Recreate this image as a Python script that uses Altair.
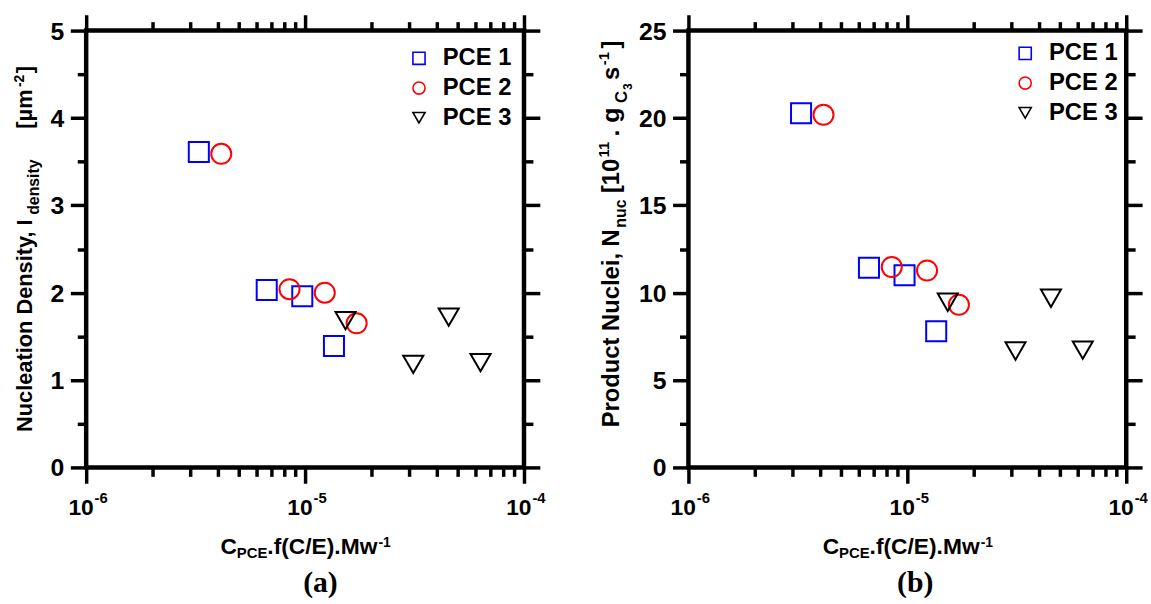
import altair as alt
import pandas as pd

FONT = "Arial"
SERIF = "Times New Roman, Liberation Serif"

# ---------------- data ----------------
series_names = ["PCE 1", "PCE 2", "PCE 3"]
series_colors = ["#0000ff", "#ff0000", "#000000"]
series_shapes = ["square", "circle", "triangle-down"]

# x: C_PCE.f(C/E).Mw^-1
pce1_x = [3.27e-6, 6.68e-6, 9.71e-6, 1.355e-5]
pce2_x = [4.14e-6, 8.49e-6, 1.23e-5, 1.72e-5]
pce3_x = [1.53e-5, 3.12e-5, 4.53e-5, 6.33e-5]

# panel (a): nucleation density
pce1_a = [3.61, 2.03, 1.96, 1.39]
pce2_a = [3.59, 2.04, 2.00, 1.65]
pce3_a = [1.68, 1.18, 1.72, 1.20]

# panel (b): product nuclei
pce1_b = [20.27, 11.43, 11.00, 7.79]
pce2_b = [20.18, 11.47, 11.27, 9.31]
pce3_b = [9.45, 6.66, 9.68, 6.71]

# axis ticks / labels
x_major = [1e-6, 1e-5, 1e-4]
x_exponents = ["-6", "-5", "-4"]
x_minor_mult = [2, 3, 4, 5, 6, 7, 8, 9]
y_ticks_a = [0, 0.5, 1, 1.5, 2, 2.5, 3, 3.5, 4, 4.5, 5]
y_ticks_b = [0, 2.5, 5, 7.5, 10, 12.5, 15, 17.5, 20, 22.5, 25]
y_major_a = [0, 1, 2, 3, 4, 5]
y_labels_a = ["0", "1", "2", "3", "4", "5"]
y_major_b = [0, 5, 10, 15, 20, 25]
y_labels_b = ["0", "5", "10", "15", "20", "25"]

x_ticks = sorted(x_major + [m * d for d in x_major[:-1] for m in x_minor_mult])

W, H = 442, 441
MAJOR_X = "abs(log(datum.value)/LN10 - round(log(datum.value)/LN10)) < 0.001"


def make_df(ys):
    rows = []
    for name, xs, yv in zip(series_names, [pce1_x, pce2_x, pce3_x], ys):
        for xv, yy in zip(xs, yv):
            rows.append({"series": name, "x": xv, "y": yy})
    return pd.DataFrame(rows)


def x_axis(orient):
    return alt.Axis(orient=orient, values=x_ticks, labels=False, title=None,
                    grid=False, domain=False, ticks=True, tickColor="black",
                    tickWidth=3.5,
                    tickSize={"condition": {"test": MAJOR_X, "value": 16}, "value": 9})


def y_axis(orient, ticks, step):
    test = f"abs(datum.value/{step} - round(datum.value/{step})) < 0.001"
    return alt.Axis(orient=orient, values=ticks, title=None, grid=False, domain=False,
                    ticks=True, tickColor="black", tickWidth=3.5, labels=False,
                    tickSize={"condition": {"test": test, "value": 16}, "value": 9})


def piece(text, x, y, size, angle=0, align="left", font=FONT):
    return alt.Chart(pd.DataFrame({"t": [text]})).mark_text(
        align=align, baseline="alphabetic", angle=angle, font=font,
        fontSize=size, fontWeight="bold", color="black"
    ).encode(text="t:N", x=alt.value(x), y=alt.value(y))


def panel(df, y_ticks, step, y_max, y_major, y_labels, lx, ly, ytitle, letter, letter_x):
    xscale = alt.Scale(type="log", domain=[1e-6, 1e-4], nice=False)
    yscale = alt.Scale(domain=[0, y_max], nice=False)
    legend = alt.Legend(orient="none", legendX=lx, legendY=ly, title=None,
                        labelFont=FONT, labelFontSize=24, labelFontWeight="bold",
                        labelColor="black", symbolSize=150, symbolStrokeWidth=1.6,
                        labelOffset=12, rowPadding=6, padding=0, labelLimit=300)
    color = alt.Color("series:N", scale=alt.Scale(domain=series_names, range=series_colors),
                      legend=legend)
    shape = alt.Shape("series:N", scale=alt.Scale(domain=series_names, range=series_shapes),
                      legend=legend)
    points = alt.Chart(df).mark_point(filled=False, size=410, strokeWidth=2, opacity=1).encode(
        x=alt.X("x:Q", scale=xscale, axis=x_axis("bottom")),
        y=alt.Y("y:Q", scale=yscale, axis=y_axis("left", y_ticks, step)),
        color=color, shape=shape)
    mirror = alt.Chart(df).mark_point(opacity=0).encode(
        x=alt.X("x:Q", scale=xscale, axis=x_axis("top")),
        y=alt.Y("y:Q", scale=yscale, axis=y_axis("right", y_ticks, step)))
    ylab = alt.Chart(pd.DataFrame({"v": y_major, "t": y_labels})).mark_text(
        align="right", baseline="middle", dy=1, font=FONT, fontSize=25,
        fontWeight="bold", color="black"
    ).encode(y=alt.Y("v:Q", scale=yscale, axis=None), x=alt.value(-22), text="t:N")
    xlab_df = pd.DataFrame({"value": x_major, "exp": x_exponents})
    ten = alt.Chart(xlab_df).mark_text(
        align="right", baseline="alphabetic", dx=7.6, font=FONT, fontSize=23,
        fontWeight="bold", color="black"
    ).encode(x=alt.X("value:Q", scale=xscale, axis=None), y=alt.value(488.8),
             text=alt.value("10"))
    expo = alt.Chart(xlab_df).mark_text(
        align="left", baseline="alphabetic", dx=8.5, font=FONT, fontSize=15,
        fontWeight="bold", color="black"
    ).encode(x=alt.X("value:Q", scale=xscale, axis=None), y=alt.value(477),
             text="exp:N")
    xtitle = [
        piece("C", 135.5, 528.8, 23),
        piece("PCE", 152.1, 532.5, 15),
        piece(".f(C/E).Mw", 182.9, 528.8, 23),
        piece("-1", 295, 521, 14),
    ]
    ytitle_layers = [piece(t, x, y, s, angle=270) for (t, x, y, s) in ytitle]
    letter_layer = piece(letter, letter_x, 567, 30, align="center", font=SERIF)
    return alt.layer(points, mirror, ylab, ten, expo, *xtitle, *ytitle_layers,
                     letter_layer).resolve_axis(
        x="independent", y="independent").properties(width=W, height=H)


ytitle_a = [
    ("Nucleation Density, I", -54.7, 405.2, 22),
    ("density", -47.5, 186, 16),
    ("[µm", -54.7, 99, 22),
    ("-2", -63, 57, 14),
    ("]", -54.7, 43, 22),
]
ytitle_b = [
    ("Product Nuclei, N", -70, 400.5, 24),
    ("nuc", -63, 199, 16),
    ("[10", -70, 164, 24),
    ("11", -80, 128, 15),
    (". g", -70, 107, 25),
    ("C", -62, 73, 17),
    ("3", -57, 60, 12),
    ("s", -70, 50, 24),
    ("-1", -80, 35, 15),
    ("]", -70, 18, 24),
]

left = panel(make_df([pce1_a, pce2_a, pce3_a]), y_ticks_a, 1, 5, y_major_a, y_labels_a,
             324, 16, ytitle_a, "(a)", 236.5)
right = panel(make_df([pce1_b, pce2_b, pce3_b]), y_ticks_b, 5, 25, y_major_b, y_labels_b,
              328, 11, ytitle_b, "(b)", 229)

chart = alt.hconcat(left, right, spacing=46).resolve_scale(
    x="independent", y="independent", color="independent", shape="independent"
).resolve_legend(color="independent", shape="independent").properties(
    padding={"left": 10, "top": 8, "right": 0, "bottom": 0},
    background="white",
).configure_view(stroke="black", strokeWidth=4.5)

chart.save("out.html", embed_options={"renderer": "svg", "actions": False})
